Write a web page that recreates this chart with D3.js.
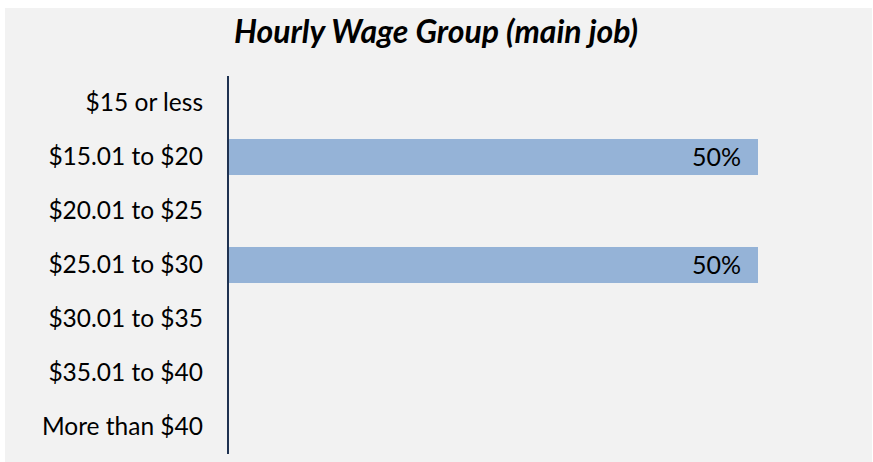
<!DOCTYPE html>
<html><head><meta charset="utf-8">
<script src="https://cdn.jsdelivr.net/npm/d3@7"></script>
<style>html,body{margin:0;padding:0;background:#fff;}svg{display:block;}</style>
</head><body>
<script>
const categories = ["$15 or less","$15.01 to $20","$20.01 to $25","$25.01 to $30","$30.01 to $35","$35.01 to $40","More than $40"];
const values = [null, 0.5, null, 0.5, null, null, null];
const title = "Hourly Wage Group (main job)";

const W = 873, H = 462;
const svg = d3.select("body").append("svg").attr("width", W).attr("height", H);
svg.append("rect").attr("x",5).attr("y",8).attr("width",867).attr("height",454).attr("fill","#f2f2f2");

const font = "Lato, sans-serif";
svg.append("text").attr("x",436).attr("y",43).attr("text-anchor","middle")
  .attr("font-family",font).attr("font-size",32).attr("font-weight","bold").attr("font-style","italic")
  .attr("fill","#000").text(title);

const x = d3.scaleLinear().domain([0,0.5]).range([228,758]);
const y = d3.scaleBand().domain(categories).range([76,454]).paddingInner(0.333).paddingOuter(0.1665);

const data = categories.map((c,i)=>({c, v: values[i]}));
svg.selectAll("rect.bar").data(data.filter(d=>d.v!=null)).enter().append("rect")
  .attr("class","bar").attr("x",x(0)).attr("y",d=>y(d.c)).attr("width",d=>x(d.v)-x(0))
  .attr("height",y.bandwidth()).attr("fill","#95b3d7");

svg.selectAll("text.lbl").data(data.filter(d=>d.v!=null)).enter().append("text")
  .attr("class","lbl").attr("x",d=>x(d.v)-17).attr("y",d=>y(d.c)+y.bandwidth()/2)
  .attr("dy","0.35em").attr("text-anchor","end").attr("font-family",font).attr("font-size",25)
  .attr("fill","#000").text(d=>d3.format(".0%")(d.v));

const yAxis = svg.append("g").attr("transform","translate(228,0)").call(d3.axisLeft(y).tickSize(0).tickPadding(25));
yAxis.select(".domain").attr("stroke","#1f3251").attr("stroke-width",2).attr("d","M0,76V454");
yAxis.selectAll("text").attr("font-family",font).attr("font-size",24.5).attr("fill","#000");
</script>
</body></html>
